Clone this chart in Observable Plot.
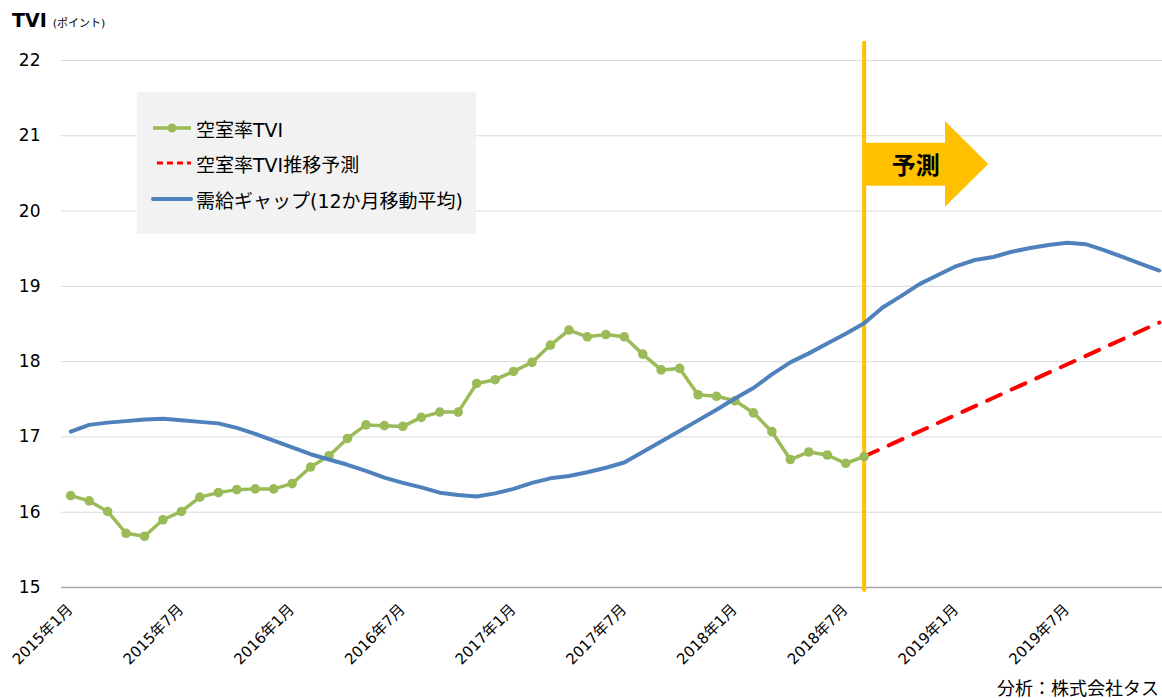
<!DOCTYPE html>
<html><head><meta charset="utf-8">
<script src="https://cdn.jsdelivr.net/npm/d3@7"></script>
<script src="https://cdn.jsdelivr.net/npm/@observablehq/plot@0.6"></script>
<style>
body{margin:0;background:#fff;font-family:"DejaVu Sans","Noto Sans CJK JP",sans-serif;}
#wrap{position:relative;width:1162px;height:698px;overflow:hidden;}
#title{position:absolute;left:12px;top:9px;white-space:nowrap;color:#000;}
#title b{font-size:19px;font-weight:bold;}
#title span{font-size:11px;margin-left:6px;}
#legend{position:absolute;left:137px;top:92px;width:339px;height:142px;background:#f2f2f2;}
.li{position:absolute;left:14px;height:24px;display:flex;align-items:center;font-size:19px;color:#000;white-space:nowrap;}
.li svg{margin-right:3px;}
#caption{position:absolute;right:3px;top:674px;font-size:18px;color:#000;white-space:nowrap;}
</style></head><body>
<div id="wrap">
  <div id="chart"></div>
  <div id="title"><b>TVI</b><span>(ポイント)</span></div>
  <div id="legend"></div>
  <div id="caption"></div>
</div>
<script>
// ---- data ----
const tickMonths = [0, 6, 12, 18, 24, 30, 36, 42, 48, 54];
const tickLabels = ["2015年1月","2015年7月","2016年1月","2016年7月","2017年1月","2017年7月","2018年1月","2018年7月","2019年1月","2019年7月"];
const yTicks = [15, 16, 17, 18, 19, 20, 21, 22];

// 空室率TVI (2015年1月〜2018年8月)
const tviValues = [16.22, 16.15, 16.01, 15.72, 15.68, 15.90, 16.01, 16.20, 16.26, 16.30, 16.31, 16.31,
                   16.38, 16.60, 16.75, 16.98, 17.16, 17.15, 17.14, 17.26, 17.33, 17.33, 17.71, 17.76,
                   17.87, 17.99, 18.22, 18.42, 18.33, 18.36, 18.33, 18.10, 17.89, 17.91, 17.56, 17.54,
                   17.48, 17.32, 17.07, 16.70, 16.80, 16.76, 16.65, 16.74];
// 空室率TVI推移予測
const forecastMonths = [43, 59];
const forecastValues = [16.74, 18.52];
// 需給ギャップ(12か月移動平均) (2015年1月〜2019年12月)
const gapValues = [17.07, 17.16, 17.19, 17.21, 17.23, 17.24, 17.22, 17.20, 17.18, 17.12, 17.04, 16.95,
                   16.86, 16.77, 16.70, 16.63, 16.55, 16.46, 16.39, 16.33, 16.26, 16.23, 16.21, 16.25,
                   16.31, 16.39, 16.45, 16.48, 16.53, 16.59, 16.66, 16.80, 16.94, 17.08, 17.22, 17.36,
                   17.51, 17.65, 17.83, 17.99, 18.11, 18.24, 18.37, 18.51, 18.72, 18.87, 19.03, 19.15,
                   19.27, 19.35, 19.39, 19.46, 19.51, 19.55, 19.58, 19.56, 19.48, 19.39, 19.30, 19.21];
const seriesNames = ["空室率TVI", "空室率TVI推移予測", "需給ギャップ(12か月移動平均)"];
const seriesColors = ["#9BBB59", "#FF0000", "#4F81BD"];
const forecastLabel = "予測";
const forecastStart = 43;
const captionText = "分析：株式会社タス";

// annotation arrow (in data units)
const arrowBody = [{x: 43, y1: 20.33, y2: 20.90}, {x: 47.41, y1: 20.33, y2: 20.90}];
const arrowHead = [{x: 47.41, y1: 20.05, y2: 21.19}, {x: 49.75, y1: 20.62, y2: 20.62}];

const tvi = tviValues.map((v, i) => ({m: i, v}));
const gap = gapValues.map((v, i) => ({m: i, v}));
const fc = forecastMonths.map((m, i) => ({m, v: forecastValues[i]}));
const ticks = tickMonths.map((m, i) => ({m, label: tickLabels[i]}));

const font = '"DejaVu Sans","Noto Sans CJK JP",sans-serif';
const chart = Plot.plot({
  width: 1162, height: 698,
  marginLeft: 61, marginRight: 0, marginTop: 60, marginBottom: 111,
  style: {fontFamily: font, background: "transparent", overflow: "visible"},
  x: {type: "linear", domain: [-0.5, 59.17], axis: null},
  y: {domain: [15, 22], axis: null},
  marks: [
    Plot.ruleY(yTicks.filter(d => d > 15), {stroke: "#d9d9d9", strokeWidth: 1}),
    Plot.ruleY([15], {stroke: "#a6a6a6", strokeWidth: 1.5}),
    Plot.text(yTicks, {y: d => d, text: d => String(d), frameAnchor: "left", dx: -21, textAnchor: "end", fontSize: 17, fill: "#000"}),
    Plot.text(ticks, {x: "m", text: "label", frameAnchor: "bottom", dy: 23, dx: 3, rotate: -45, textAnchor: "end", fontSize: 15, fill: "#000"}),
    Plot.ruleX([forecastStart], {y1: 22.23, y2: 14.96, stroke: "#FFC000", strokeWidth: 4, strokeLinecap: "round"}),
    Plot.areaY(arrowBody, {x: "x", y1: "y1", y2: "y2", fill: "#FFC000", curve: "linear"}),
    Plot.areaY(arrowHead, {x: "x", y1: "y1", y2: "y2", fill: "#FFC000", curve: "linear"}),
    Plot.text([forecastLabel], {x: 45.8, y: 20.6, text: d => d, fontSize: 24, fontWeight: "bold", fill: "#000"}),
    Plot.line(fc, {x: "m", y: "v", stroke: seriesColors[1], strokeWidth: 4, strokeDasharray: "15,12", strokeLinecap: "round"}),
    Plot.line(tvi, {x: "m", y: "v", stroke: seriesColors[0], strokeWidth: 3.5}),
    Plot.dot(tvi, {x: "m", y: "v", r: 4.8, fill: seriesColors[0], stroke: "none"}),
    Plot.line(gap, {x: "m", y: "v", stroke: seriesColors[2], strokeWidth: 4, strokeLinejoin: "round"})
  ]
});
document.getElementById("chart").appendChild(chart);

// legend
const legend = document.getElementById("legend");
const swatches = [
  `<svg width="42" height="12"><line x1="2" y1="6" x2="40" y2="6" stroke="${seriesColors[0]}" stroke-width="3.5"/><circle cx="21" cy="6" r="4.5" fill="${seriesColors[0]}"/></svg>`,
  `<svg width="42" height="12"><line x1="6" y1="6" x2="40" y2="6" stroke="${seriesColors[1]}" stroke-width="3" stroke-dasharray="6,4"/></svg>`,
  `<svg width="42" height="12"><line x1="2" y1="6" x2="40" y2="6" stroke="${seriesColors[2]}" stroke-width="4" stroke-linecap="round"/></svg>`
];
const tops = [24, 59, 95];
seriesNames.forEach((name, i) => {
  const d = document.createElement("div");
  d.className = "li";
  d.style.top = tops[i] + "px";
  d.innerHTML = swatches[i] + `<span>${name}</span>`;
  legend.appendChild(d);
});
document.getElementById("caption").textContent = captionText;
</script>
</body></html>
